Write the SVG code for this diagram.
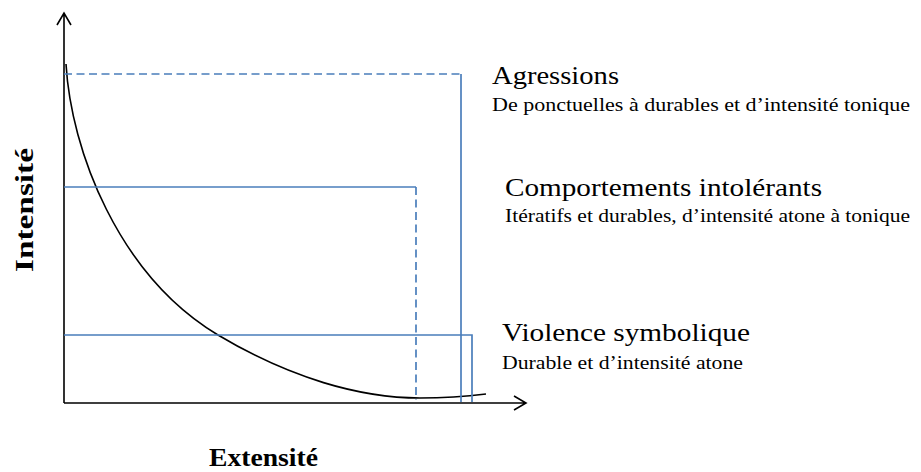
<svg xmlns="http://www.w3.org/2000/svg" width="921" height="472" viewBox="0 0 921 472">
<style>
.ax{fill:none;stroke:#000;stroke-width:1.6}
.bl{fill:none;stroke:#4A7EBB;stroke-width:1.7}
.ds{stroke-dasharray:8 4.5}
.t{font-family:"Liberation Serif","Times New Roman",serif;fill:#000}
.h{font-size:25px}
.s{font-size:18px}
.b{font-size:25px;font-weight:bold}
</style>
<rect width="921" height="472" fill="#fff"/>
<g id="connectors">
<path class="ax" d="M64,403 V13 M57,25 L64,13 L71,25"/>
<path class="ax" d="M64,403 H526 M514,396 L526,403 L514,410"/>
<path class="ax" d="M66,64 C71,150 118,275 218,335 C290,378 360,398 420,398 C450,398 470,396 486,394" stroke-width="1.4"/>
<path class="bl ds" d="M64,74 H461"/>
<path class="bl" d="M461,74 V402"/>
<path class="bl" d="M64,187 H416"/>
<path class="bl ds" d="M416,187 V400"/>
<path class="bl" d="M64,335 H472 V402"/>
</g>
<g id="agressions">
<text class="t h" x="492" y="84" textLength="127" lengthAdjust="spacingAndGlyphs">Agressions</text>
<text class="t s" x="492" y="111" textLength="418" lengthAdjust="spacingAndGlyphs">De ponctuelles à durables et d’intensité tonique</text>
</g>
<g id="comportements">
<text class="t h" x="505" y="196" textLength="317" lengthAdjust="spacingAndGlyphs">Comportements  intolérants</text>
<text class="t s" x="505" y="222" textLength="405" lengthAdjust="spacingAndGlyphs">Itératifs et durables, d’intensité atone à tonique</text>
</g>
<g id="violence">
<text class="t h" x="502" y="341" textLength="248" lengthAdjust="spacingAndGlyphs">Violence symbolique</text>
<text class="t s" x="502" y="369" textLength="241" lengthAdjust="spacingAndGlyphs">Durable et d’intensité atone</text>
</g>
<g id="axis-labels">
<text class="t b" transform="translate(33,272) rotate(-90)" textLength="124" lengthAdjust="spacingAndGlyphs">Intensité</text>
<text class="t b" x="209" y="466" textLength="109" lengthAdjust="spacingAndGlyphs">Extensité</text>
</g>
</svg>
